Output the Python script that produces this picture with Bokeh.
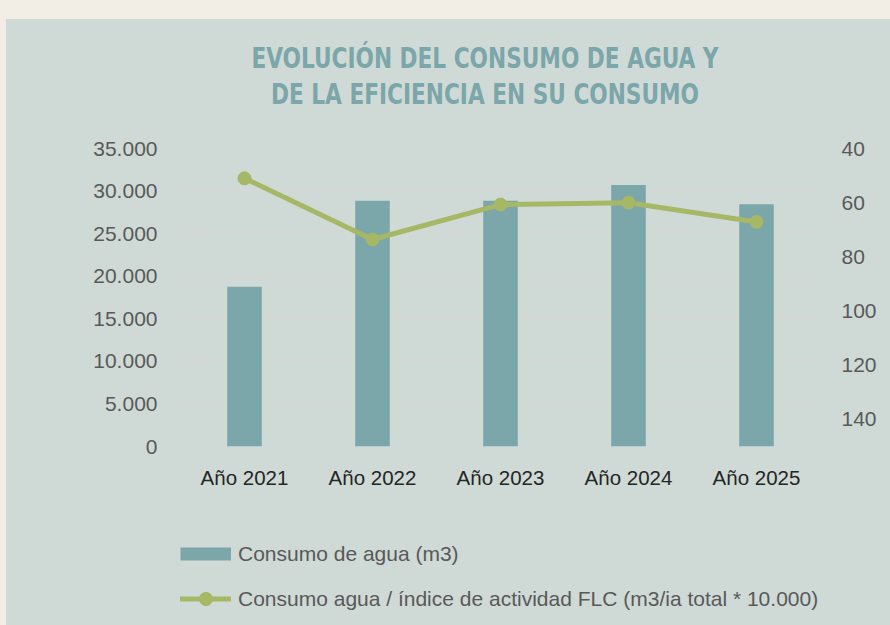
import math
from bokeh.plotting import figure
from bokeh.models import (Range1d, LinearAxis, FixedTicker, Legend, LegendItem,
                          Div, ColumnDataSource, GlobalInlineStyleSheet)
from bokeh.layouts import column
from bokeh.embed import file_html
from bokeh.resources import INLINE

# ---------------- data ----------------
years = ["Año 2021", "Año 2022", "Año 2023", "Año 2024", "Año 2025"]
consumo_agua = [18750, 28850, 28850, 30700, 28450]
consumo_indice = [51.0, 73.6, 60.7, 60.0, 67.1]

left_ticks = [0, 5000, 10000, 15000, 20000, 25000, 30000, 35000]
left_tick_labels = ["0", "5.000", "10.000", "15.000", "20.000", "25.000", "30.000", "35.000"]
right_ticks = [40, 60, 80, 100, 120, 140]
right_tick_labels = ["40", "60", "80", "100", "120", "140"]

title_lines = ["EVOLUCIÓN DEL CONSUMO DE AGUA Y", "DE LA EFICIENCIA EN SU CONSUMO"]
series_names = ["Consumo de agua (m3)",
                "Consumo agua / índice de actividad FLC (m3/ia total * 10.000)"]

# ---------------- styles ----------------
PANEL = "#cfdad6"
BEIGE = "#f2eee6"
BAR = "#7ba6aa"
LINE = "#a6b866"
TITLE = "#7ba6aa"
AXIS_TXT = "#595959"
W = 884

src = ColumnDataSource(dict(x=years, agua=consumo_agua, idx=consumo_indice))

# ---------------- main chart ----------------
p = figure(x_range=years, y_range=Range1d(0, 35000),
           width=W, height=367, margin=0,
           output_backend="svg", toolbar_location=None,
           min_border_left=174, min_border_right=70,
           min_border_top=19, min_border_bottom=50,
           background_fill_color=None, border_fill_color=PANEL,
           outline_line_color=None)

p.extra_y_ranges = {"idx": Range1d(start=150, end=40)}

p.vbar(x="x", top="agua", width=0.27, source=src,
       fill_color=BAR, line_color=None)

p.line(x="x", y="idx", source=src, y_range_name="idx",
       line_color=LINE, line_width=5, line_cap="round", line_join="round")
p.scatter(x="x", y="idx", source=src, y_range_name="idx",
          size=13, fill_color=LINE, line_color=LINE)

p.xaxis.axis_line_color = None
p.xaxis.major_tick_line_color = None
p.xaxis.major_tick_out = 0
p.xaxis.minor_tick_line_color = None
p.xaxis.major_label_text_font = "Liberation Sans"
p.xaxis.major_label_text_font_size = "20.5px"
p.xaxis.major_label_text_color = "#262626"
p.xaxis.major_label_standoff = 19

yl = p.yaxis[0]
yl.ticker = FixedTicker(ticks=left_ticks)
yl.major_label_overrides = {t: s for t, s in zip(left_ticks, left_tick_labels)}
yl.axis_line_color = None
yl.major_tick_line_color = None
yl.major_tick_out = 0
yl.minor_tick_line_color = None
yl.major_label_text_font = "Liberation Sans"
yl.major_label_text_font_size = "21px"
yl.major_label_text_color = AXIS_TXT
yl.major_label_standoff = 23

yr = LinearAxis(y_range_name="idx", ticker=FixedTicker(ticks=right_ticks))
yr.major_label_overrides = {t: s for t, s in zip(right_ticks, right_tick_labels)}
yr.axis_line_color = None
yr.major_tick_line_color = None
yr.major_tick_out = 0
yr.minor_tick_line_color = None
yr.major_label_text_font = "Liberation Sans"
yr.major_label_text_font_size = "21px"
yr.major_label_text_color = AXIS_TXT
yr.major_label_standoff = 21
p.add_layout(yr, "right")

p.xgrid.grid_line_color = None
p.ygrid.ticker = FixedTicker(ticks=left_ticks)
p.ygrid.grid_line_color = "#dbd6d6"
p.ygrid.grid_line_width = 1

# ---------------- legend strip ----------------
lg = figure(x_range=years, y_range=Range1d(0, 1), width=W, height=129, margin=0,
            output_backend="svg", toolbar_location=None,
            min_border_left=174, min_border_right=70, min_border_top=0, min_border_bottom=0,
            background_fill_color=None, border_fill_color=PANEL,
            outline_line_color=None, x_axis_location=None, y_axis_location=None)
lg.grid.visible = False
nan2 = [math.nan, math.nan]
bar_proxy = lg.line(x=years[:2], y=nan2, line_color=BAR, line_width=13, line_cap="butt")
line_proxy = lg.line(x=years[:2], y=nan2, line_color=LINE, line_width=5, line_cap="round")
dot_proxy = lg.scatter(x=years[:2], y=nan2, fill_color=LINE, line_color=LINE)

legend = Legend(items=[LegendItem(label=series_names[0], renderers=[bar_proxy]),
                       LegendItem(label=series_names[1], renderers=[line_proxy, dot_proxy])],
                location=(0, 10), orientation="vertical",
                glyph_width=51, glyph_height=33, label_standoff=7, spacing=12,
                padding=0, margin=0, border_line_color=None,
                background_fill_alpha=0,
                label_text_font="Liberation Sans", label_text_font_size="21px",
                label_text_color=AXIS_TXT)
lg.add_layout(legend, "center")

# ---------------- title ----------------
title_html = (
    '<div style="margin-left:82px;width:794px;text-align:center;'
    'font-family:\'DejaVu Sans Condensed\',\'Liberation Sans Narrow\',sans-serif;'
    'font-stretch:condensed;font-weight:bold;font-size:28px;line-height:36px;'
    'padding-top:22px;color:%s;transform:scaleX(0.86);">%s<br>%s</div>'
    % (TITLE, title_lines[0], title_lines[1])
)
title_div = Div(text=title_html, width=W, height=110, margin=0,
                styles={"background-color": PANEL})

layout = column(title_div, p, lg, margin=(19, 0, 0, 6),
                styles={"background-color": PANEL})
layout.stylesheets = [GlobalInlineStyleSheet(css=(
    "html, body {margin:0 !important; padding:0 !important; overflow:hidden; background:%s !important;}"
    % BEIGE))]

open("out.html", "w").write(file_html(layout, INLINE))
